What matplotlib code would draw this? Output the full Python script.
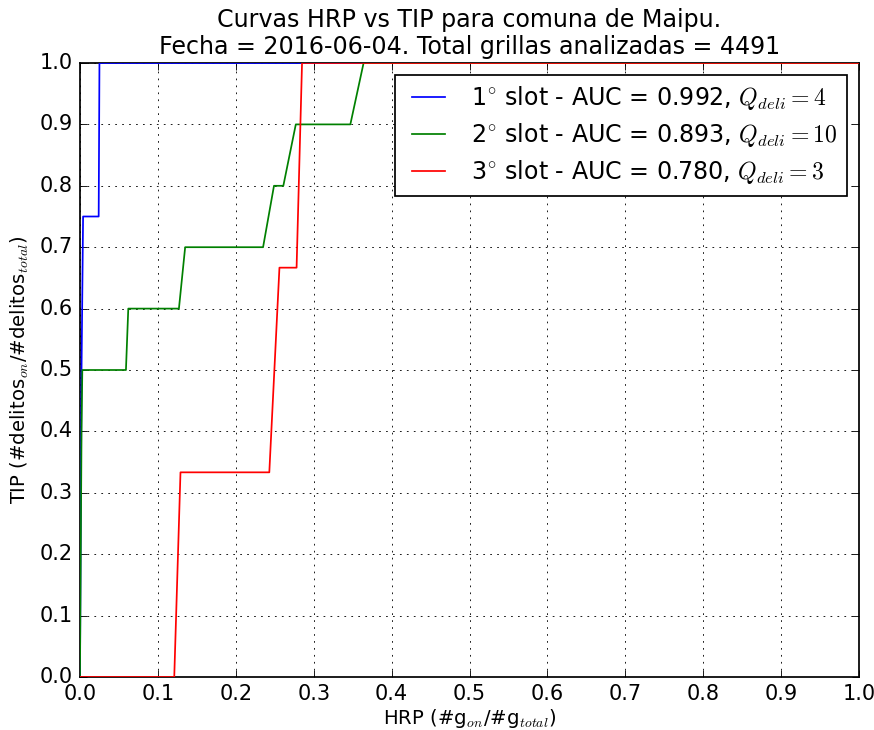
import matplotlib
matplotlib.use('Agg')
import matplotlib.pyplot as plt

plt.style.use('classic')

title = 'Curvas HRP vs TIP para comuna de Maipu.\nFecha = 2016-06-04. Total grillas analizadas = 4491'

hrp_1 = [0.0, 0.001, 0.002, 0.004, 0.024, 0.025, 1.0]
tip_1 = [0.0, 0.25, 0.5, 0.75, 0.75, 1.0, 1.0]

hrp_2 = [0.0, 0.0005, 0.001, 0.0015, 0.002, 0.003, 0.059, 0.062, 0.127, 0.135,
         0.235, 0.249, 0.261, 0.277, 0.347, 0.364, 1.0]
tip_2 = [0.0, 0.1, 0.2, 0.3, 0.4, 0.5, 0.5, 0.6, 0.6, 0.7,
         0.7, 0.8, 0.8, 0.9, 0.9, 1.0, 1.0]

hrp_3 = [0.0, 0.121, 0.129, 0.243, 0.256, 0.278, 0.285, 1.0]
tip_3 = [0.0, 0.0, 1/3, 1/3, 2/3, 2/3, 1.0, 1.0]

labels = [r'1$^{\circ}$ slot - AUC = 0.992, $Q_{deli}=4$',
          r'2$^{\circ}$ slot - AUC = 0.893, $Q_{deli}=10$',
          r'3$^{\circ}$ slot - AUC = 0.780, $Q_{deli}=3$']
colors = ['b', 'g', 'r']

fig = plt.figure(figsize=(6.992, 5.84), dpi=125)
ax = fig.add_axes([0.0915, 0.0726, 0.8915, 0.8411])
for h, t, c, l in zip([hrp_1, hrp_2, hrp_3], [tip_1, tip_2, tip_3], colors, labels):
    ax.plot(h, t, color=c, label=l, zorder=3)

ax.set_xlim(0, 1)
ax.set_ylim(0, 1)
ax.set_xticks([i / 10 for i in range(11)])
ax.set_yticks([i / 10 for i in range(11)])
ax.tick_params(labelsize=12)
ax.grid(True)
ax.set_title(title, fontsize=13.7)
ax.set_xlabel(r'HRP (#g$_{on}$/#g$_{total}$)', fontsize=11.3, labelpad=1.5)
ax.set_ylabel(r'TIP (#delitos$_{on}$/#delitos$_{total}$)', fontsize=11.3)
ax.legend(loc='upper right', fontsize=13.7, labelspacing=0.38)

fig.savefig('out.png', dpi=125)
